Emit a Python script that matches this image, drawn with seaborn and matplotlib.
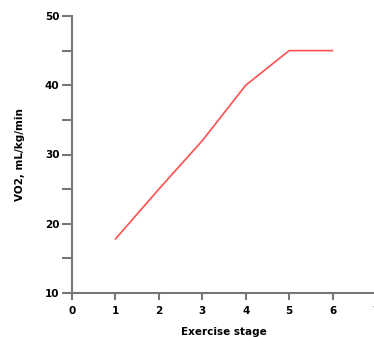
import matplotlib
matplotlib.use("Agg")
import matplotlib.pyplot as plt
import seaborn as sns
import pandas as pd
from matplotlib.ticker import MultipleLocator

stage = [1, 2, 3, 4, 5, 6]
vo2 = [17.8, 25, 32, 40, 45, 45]
x_ticks = [0, 1, 2, 3, 4, 5, 6, 7]
y_ticks = [10, 20, 30, 40, 50]

sns.set_theme(style="white")
plt.rcParams['font.family'] = ['DejaVu Sans']
plt.rcParams['text.color'] = 'black'
plt.rcParams['xtick.labelcolor'] = 'black'
plt.rcParams['ytick.labelcolor'] = 'black'
plt.rcParams['axes.labelcolor'] = 'black'

df = pd.DataFrame({"stage": stage, "vo2": vo2})
fig = plt.figure(figsize=(3.74, 3.37), dpi=100)
ax = fig.add_axes([72/374, 44/337, 304/374, 277/337])
sns.lineplot(data=df, x="stage", y="vo2", ax=ax, color="#ff5050", linewidth=1.2)

ax.set_xlim(0, 7)
ax.set_ylim(10, 50)
ax.set_xticks(x_ticks)
ax.set_yticks(y_ticks)
ax.yaxis.set_minor_locator(MultipleLocator(5))
for s in ["top", "right"]:
    ax.spines[s].set_visible(False)
for s in ["left", "bottom"]:
    ax.spines[s].set_color("#777777")
    ax.spines[s].set_linewidth(1.5)
ax.tick_params(axis="y", which="both", direction="out", length=7, width=1.5, color="#777777",
               left=True, labelsize=7.5, pad=2, labelcolor="black")
ax.tick_params(axis="x", which="both", direction="out", length=5, width=1.5, color="#777777",
               bottom=True, labelsize=7.5, pad=4, labelcolor="black")
for lbl in ax.get_xticklabels() + ax.get_yticklabels():
    lbl.set_fontweight("bold")
ax.set_xlabel("Exercise stage", fontsize=7.5, fontweight="bold", labelpad=8, color="black")
ax.set_ylabel("VO2, mL/kg/min", fontsize=7.5, fontweight="bold", labelpad=14, color="black")
ax.grid(False)
fig.savefig("out.png", dpi=100)
